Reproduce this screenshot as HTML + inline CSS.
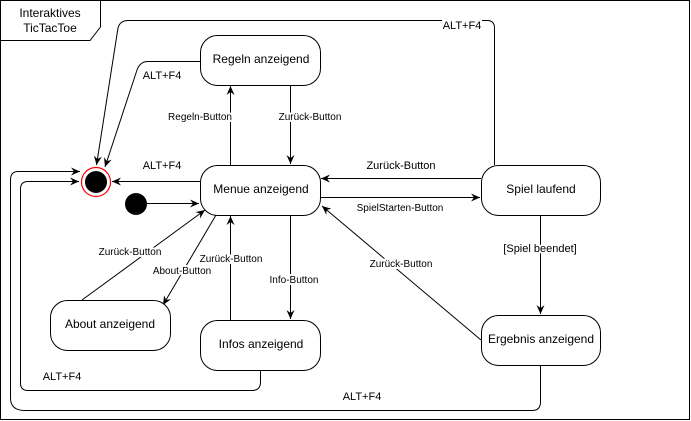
<!DOCTYPE html>
<html><head><meta charset="utf-8"><style>
html,body{margin:0;padding:0;background:#fff;}
svg{display:block;font-family:"Liberation Sans",Arial,sans-serif;}
</style></head><body>
<svg width="691" height="421" viewBox="0 0 691 421" xmlns="http://www.w3.org/2000/svg">
<defs>
<marker id="a" markerWidth="10" markerHeight="10" refX="9" refY="5" orient="auto" markerUnits="userSpaceOnUse">
<path d="M0,1 L9,5 L0,9 L3,5 Z" fill="#000"/>
</marker>
</defs>
<rect x="0.5" y="0.5" width="689" height="419" fill="#fff" stroke="#000"/>
<path d="M0.5,40.5 H90 L100.5,27 V0.5" fill="none" stroke="#000"/>
<text x="50" y="17" font-size="12" text-anchor="middle">Interaktives</text>
<text x="50" y="32" font-size="12" text-anchor="middle">TicTacToe</text>

<g fill="none" stroke="#000" stroke-width="1">
<line x1="230.5" y1="165" x2="230.5" y2="86" marker-end="url(#a)"/>
<line x1="290.5" y1="85" x2="290.5" y2="164" marker-end="url(#a)"/>
<line x1="200" y1="181.5" x2="112" y2="181.5" marker-end="url(#a)"/>
<path d="M200,61.5 H148 Q140,61.5 137,70 L105,167" marker-end="url(#a)"/>
<path d="M494.5,165 V28 Q494.5,20.5 487,20.5 H128 Q120,20.5 118,28 L96.5,165" marker-end="url(#a)"/>
<line x1="481" y1="178.5" x2="321" y2="178.5" marker-end="url(#a)"/>
<line x1="320" y1="197.5" x2="480" y2="197.5" marker-end="url(#a)"/>
<line x1="540.5" y1="215" x2="540.5" y2="314" marker-end="url(#a)"/>
<line x1="481" y1="340" x2="322" y2="206" marker-end="url(#a)"/>
<line x1="147" y1="203.5" x2="199" y2="203.5" marker-end="url(#a)"/>
<line x1="82" y1="300" x2="205" y2="210" marker-end="url(#a)"/>
<line x1="216" y1="215" x2="163" y2="305" marker-end="url(#a)"/>
<line x1="230.5" y1="320" x2="230.5" y2="216" marker-end="url(#a)"/>
<line x1="290.5" y1="215" x2="290.5" y2="319" marker-end="url(#a)"/>
<path d="M260.5,370 V382 Q260.5,390.5 252,390.5 H28 Q20.5,390.5 20.5,383 V189 Q20.5,181.5 28,181.5 H79" marker-end="url(#a)"/>
<path d="M540.5,365 V402 Q540.5,410.5 532,410.5 H25 Q10.5,410.5 10.5,398 V180 Q10.5,171.5 18,171.5 H80" marker-end="url(#a)"/>
</g>

<circle cx="96" cy="182" r="14.5" fill="#fff" stroke="#f00" stroke-width="1.2"/>
<circle cx="96" cy="182" r="11" fill="#000"/>
<circle cx="136" cy="204" r="11" fill="#000"/>

<g fill="#fff" stroke="#000" stroke-width="1">
<rect x="200.5" y="35.5" width="120" height="50" rx="17"/>
<rect x="200.5" y="165.5" width="120" height="50" rx="17"/>
<rect x="481.5" y="165.5" width="119" height="50" rx="17"/>
<rect x="481.5" y="315.5" width="119" height="50" rx="17"/>
<rect x="50.5" y="300.5" width="120" height="50" rx="17"/>
<rect x="200.5" y="320.5" width="120" height="50" rx="17"/>
</g>
<g font-size="12" text-anchor="middle">
<text x="261" y="63">Regeln anzeigend</text>
<text x="261" y="193">Menue anzeigend</text>
<text x="541" y="193">Spiel laufend</text>
<text x="541" y="343">Ergebnis anzeigend</text>
<text x="110" y="328">About anzeigend</text>
<text x="261" y="348">Infos anzeigend</text>
</g>
<g font-size="11" text-anchor="middle">
<rect x="442" y="17" width="40" height="12" fill="#fff"/>
<text x="462" y="29">ALT+F4</text>
<text x="162" y="79">ALT+F4</text>
<text x="162" y="169">ALT+F4</text>
<text x="401" y="169">Zurück-Button</text>
<text x="62" y="380">ALT+F4</text>
<text x="362" y="400">ALT+F4</text>
<text x="540" y="252" stroke="#fff" stroke-width="4" paint-order="stroke">[Spiel beendet]</text>
</g>
<g font-size="10" text-anchor="middle" stroke="#fff" stroke-width="4" paint-order="stroke" stroke-linejoin="round">
<text x="200" y="120">Regeln-Button</text>
<text x="310" y="120">Zurück-Button</text>
<text x="400" y="211">SpielStarten-Button</text>
<text x="401" y="267">Zurück-Button</text>
<text x="130" y="255">Zurück-Button</text>
<text x="182" y="274">About-Button</text>
<text x="231" y="262">Zurück-Button</text>
<text x="294" y="283">Info-Button</text>
</g>
</svg>
</body></html>
